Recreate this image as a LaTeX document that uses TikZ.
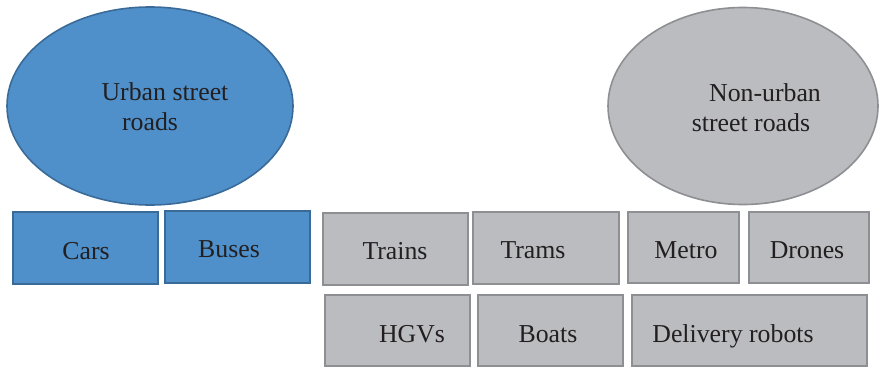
\documentclass[tikz,border=0pt]{standalone}
\usepackage{fontspec}
\setmainfont{Liberation Serif}
\usetikzlibrary{shapes.geometric}

\definecolor{urbanfill}{HTML}{4F90CA}
\definecolor{urbanline}{HTML}{3A6B98}
\definecolor{ruralfill}{HTML}{BBBCC0}
\definecolor{ruralline}{HTML}{8E8F93}
\definecolor{labelink}{HTML}{231F20}

\tikzset{
  urbanshape/.style={fill=urbanfill, draw=urbanline, line width=1.6pt},
  ruralshape/.style={fill=ruralfill, draw=ruralline, line width=1.6pt},
  label text/.style={text=labelink, font=\fontsize{25.8}{30}\selectfont,
                     inner sep=0pt, anchor=base},
}

\begin{document}
\begin{tikzpicture}[x=1pt, y=-1pt]
  \useasboundingbox (0,0) rectangle (880,367);

  % the two road categories
  \node[ellipse, urbanshape, minimum width=286pt, minimum height=198pt,
        inner sep=0pt] (urban) at (150,106) {};
  \node[ellipse, ruralshape, minimum width=270pt, minimum height=197pt,
        inner sep=0pt] (nonurban) at (743,106) {};

  \node[label text] (urbanA) at (165,100) {Urban street};
  \node[label text] (urbanB) at (150,130) {roads};
  \node[label text] (nonurbanA) at (765,101) {Non-urban};
  \node[label text] (nonurbanB) at (751,131) {street roads};

  % urban transport modes
  \draw[urbanshape] (13,212) rectangle (158,284);
  \draw[urbanshape] (165,211) rectangle (310,283);
  \node[label text] (cars)  at (86,259)  {Cars};
  \node[label text] (buses) at (229,257) {Buses};

  % non-urban transport modes, first row
  \draw[ruralshape] (323,213) rectangle (468,285);
  \draw[ruralshape] (473,212) rectangle (619,284);
  \draw[ruralshape] (628,212) rectangle (739,283);
  \draw[ruralshape] (749,212) rectangle (869,283);
  \node[label text] (trains) at (395,259) {Trains};
  \node[label text] (trams)  at (533,258) {Trams};
  \node[label text] (metro)  at (686,258) {Metro};
  \node[label text] (drones) at (807,258) {Drones};

  % non-urban transport modes, second row
  \draw[ruralshape] (325,295) rectangle (470,366);
  \draw[ruralshape] (478,295) rectangle (623,366);
  \draw[ruralshape] (632,295) rectangle (867,366);
  \node[label text] (hgvs)   at (412,342) {HGVs};
  \node[label text] (boats)  at (548,342) {Boats};
  \node[label text] (robots) at (733,342) {Delivery robots};
\end{tikzpicture}
\end{document}
